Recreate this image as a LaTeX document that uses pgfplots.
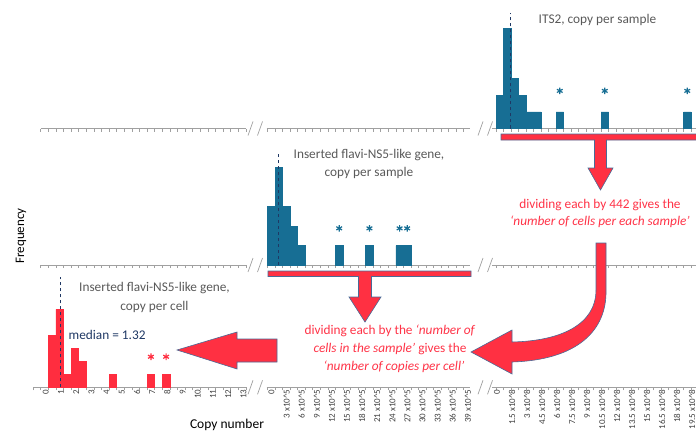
\documentclass[border=0pt]{standalone}
\usepackage{pgfplots}
\pgfplotsset{compat=1.18}
\usepackage{fontspec}
\setmainfont{Carlito}
\definecolor{barblue}{HTML}{176E94}
\definecolor{barred}{HTML}{FF2D3F}
\definecolor{navy}{HTML}{1F3864}
\definecolor{titlegray}{HTML}{595959}
\definecolor{axisgray}{HTML}{A0A0A0}
\definecolor{labgray}{HTML}{404040}
\definecolor{txtred}{HTML}{FF3347}
\definecolor{arrowred}{HTML}{FF3042}
\definecolor{arrowedge}{HTML}{4A6A96}
\newcommand{\ee}[2]{#1 x10\textasciicircum#2}
\newcommand{\tf}{\fontsize{13.3}{16}\selectfont}

\pgfplotsset{
  seg/.style={
    scale only axis, anchor=south west, clip=false, enlargelimits=false,
    axis x line*=bottom, hide y axis, ymin=0, height=117pt,
    tick align=outside, major tick length=3pt, minor tick length=3pt,
    minor x tick num=1, axis on top=false,
    tick style={axisgray, line width=0.6pt},
    axis line style={axisgray, line width=0.8pt},
  },
  segL/.style={seg, xmax=13, xtick={-1,...,13}},
  segM/.style={seg, xmin=-0.2, xmax=40.3, width=203.8pt, xtick={0,3,...,39}},
  segR/.style={seg, xmin=-0.4, xmax=20, width=204pt, xtick={0,1.5,...,19.5}},
  nolab/.style={xticklabels={}},
  lab/.style={xticklabel shift=-1.5pt, xticklabel style={xshift=#1, rotate=90, anchor=east, font=\fontsize{9}{10}\selectfont, text=labgray, inner sep=0.5pt}},
  hist/.style={const plot, fill=#1, draw=#1, line width=0.5pt, line join=miter},
  med/.style={navy, line width=1.2pt, dash pattern=on 3.5pt off 2.5pt},
  star/.style={only marks, mark=asterisk, mark size=3.3pt, #1, line width=1.2pt},
}

\begin{document}
\begin{tikzpicture}
\useasboundingbox (0pt,0pt) rectangle (696pt,432pt);

% ---------- Row 1 (ITS2, copies per sample, x in 10^8, bins of 0.75) ----------
\begin{axis}[segL, nolab, at={(40.7pt,303.5pt)}, xmin=-0.5, width=205.2pt, ymax=7]
\end{axis}
\begin{axis}[segM, nolab, at={(266.5pt,303.5pt)}, ymax=7]
\end{axis}
\begin{axis}[segR, nolab, at={(492pt,303.5pt)}, ymax=7]
\addplot[hist=barblue] coordinates {(0,2) (0.75,6) (1.5,3) (2.25,2) (3,1) (3.75,1) (4.5,0)} \closedcycle;
\addplot[hist=barblue] coordinates {(6,1) (6.75,0)} \closedcycle;
\addplot[hist=barblue] coordinates {(10.5,1) (11.25,0)} \closedcycle;
\addplot[hist=barblue] coordinates {(18.75,1) (19.5,0)} \closedcycle;
\addplot[med] coordinates {(1.47,0) (1.47,6.9)};
\addplot[star=barblue] coordinates {(6.375,2.25) (10.875,2.25) (19.125,2.25)};
\end{axis}

% ---------- Row 2 (NS5, copies per sample, x in 10^5, bins of 1.5) ----------
\begin{axis}[segL, nolab, at={(40.7pt,167pt)}, xmin=-0.5, width=205.2pt, ymax=6]
\end{axis}
\begin{axis}[segM, nolab, at={(266.5pt,167pt)}, ymax=6]
\addplot[hist=barblue] coordinates {(0,3) (1.5,5) (3,3) (4.5,2) (6,1) (7.5,0)} \closedcycle;
\addplot[hist=barblue] coordinates {(13.5,1) (15,0)} \closedcycle;
\addplot[hist=barblue] coordinates {(19.5,1) (21,0)} \closedcycle;
\addplot[hist=barblue] coordinates {(25.5,1) (28.5,0)} \closedcycle;
\addplot[med] coordinates {(2.15,0) (2.15,5.8)};
\addplot[star=barblue] coordinates {(14.25,1.88) (20.25,1.88) (26.25,1.88) (27.75,1.88)};
\end{axis}
\begin{axis}[segR, nolab, at={(492pt,167pt)}, ymax=6]
\end{axis}

% ---------- Row 3 (NS5, copies per cell, bins of 0.5) ----------
\begin{axis}[segL, lab=-2.5pt, at={(33.1pt,44.7pt)}, xmin=-1, width=212.8pt, ymax=9,
  xticklabels={,0,1,2,3,4,5,6,7,8,9,10,11,12,13}]
\addplot[hist=barred] coordinates {(0,4) (0.5,6) (1,1) (1.5,3) (2,2) (2.5,0)} \closedcycle;
\addplot[hist=barred] coordinates {(4,1) (4.5,0)} \closedcycle;
\addplot[hist=barred] coordinates {(6.5,1) (7,0)} \closedcycle;
\addplot[hist=barred] coordinates {(7.5,1) (8,0)} \closedcycle;
\addplot[med] coordinates {(0.80,0) (0.80,8.48)};
\addplot[star=barred] coordinates {(6.75,2.35) (7.75,2.35)};
\end{axis}
\begin{axis}[segM, lab=4pt, at={(266.5pt,44.7pt)}, ymax=9,
  xticklabels={0,\ee{3}{5},\ee{6}{5},\ee{9}{5},\ee{12}{5},\ee{15}{5},\ee{18}{5},\ee{21}{5},\ee{24}{5},\ee{27}{5},\ee{30}{5},\ee{33}{5},\ee{36}{5},\ee{39}{5}}]
\end{axis}
\begin{axis}[segR, lab=1pt, at={(492pt,44.7pt)}, ymax=9,
  xticklabels={0,\ee{1.5}{8},\ee{3}{8},\ee{4.5}{8},\ee{6}{8},\ee{7.5}{8},\ee{9}{8},\ee{10.5}{8},\ee{12}{8},\ee{13.5}{8},\ee{15}{8},\ee{16.5}{8},\ee{18}{8},\ee{19.5}{8}}]
\end{axis}

% ---------- annotations in pixel coordinates ----------
\begin{scope}[x=1pt, y=-1pt, shift={(0pt,432pt)}]
  \foreach \b in {128.5,265,387.3}{
    \draw[axisgray, line width=0.7pt] (248,\b+7) -- (253,\b-7);
    \draw[axisgray, line width=0.7pt] (257.5,\b+7) -- (262.5,\b-7);
    \draw[axisgray, line width=0.7pt] (478,\b+7) -- (483,\b-7);
    \draw[axisgray, line width=0.7pt] (487.5,\b+7) -- (492.5,\b-7);
  }
  \filldraw[fill=arrowred, draw=arrowedge, line width=0.6pt]
    (501,134) -- (700,134) -- (700,140) -- (606.5,140) -- (606.5,168) -- (613,168)
    -- (600.5,190) -- (588,168) -- (594.5,168) -- (594.5,140) -- (501,140) -- cycle;
  \filldraw[fill=arrowred, draw=arrowedge, line width=0.6pt]
    (268,271) -- (471,271) -- (471,276.5) -- (371.5,276.5) -- (371.5,297) -- (381,297)
    -- (365,322) -- (349,297) -- (358.5,297) -- (358.5,276.5) -- (268,276.5) -- cycle;
  \filldraw[fill=arrowred, draw=arrowedge, line width=0.6pt]
    (596,243) -- (596,290) .. controls (596,325) and (560,341) .. (512,342)
    -- (512,330) -- (471,352) -- (512,374) -- (512,362)
    .. controls (578,360) and (607,330) .. (606,290) -- (606,243) -- cycle;
  \filldraw[fill=arrowred, draw=arrowedge, line width=0.6pt]
    (177,350) -- (237,332) -- (237,339) -- (277,339) -- (277,362) -- (237,362) -- (237,369) -- cycle;

  \node[text=titlegray, font=\tf, inner sep=0pt] at (597.5,20) {ITS2, copy per sample};
  \node[text=titlegray, font=\tf, inner sep=0pt] at (369,155) {Inserted flavi-NS5-like gene,};
  \node[text=titlegray, font=\tf, inner sep=0pt] at (369,173.3) {copy per sample};
  \node[text=titlegray, font=\tf, inner sep=0pt] at (154.5,288.3) {Inserted flavi-NS5-like gene,};
  \node[text=titlegray, font=\tf, inner sep=0pt] at (154.5,306.7) {copy per cell};
  \node[text=navy, font=\tf, inner sep=0pt, anchor=west] at (68.5,335) {median = 1.32};

  \node[text=txtred, font=\tf, inner sep=0pt] at (600,205) {dividing each by 442 gives the};
  \node[text=txtred, font=\tf, inner sep=0pt] at (600,221.5) {\itshape ‘number of cells per each sample’};
  \node[text=txtred, font=\tf, inner sep=0pt] at (390,331) {dividing each by the \textit{‘number of}};
  \node[text=txtred, font=\tf, inner sep=0pt] at (390,349) {\textit{cells in the sample’} gives the};
  \node[text=txtred, font=\tf, inner sep=0pt] at (394,367) {\itshape ‘number of copies per cell’};

  \node[rotate=90, font=\fontsize{13}{15}\selectfont, inner sep=0pt] at (21,236) {Frequency};
  \node[font=\fontsize{13.5}{15}\selectfont, inner sep=0pt] at (227,425) {Copy number};
\end{scope}
\end{tikzpicture}
\end{document}
